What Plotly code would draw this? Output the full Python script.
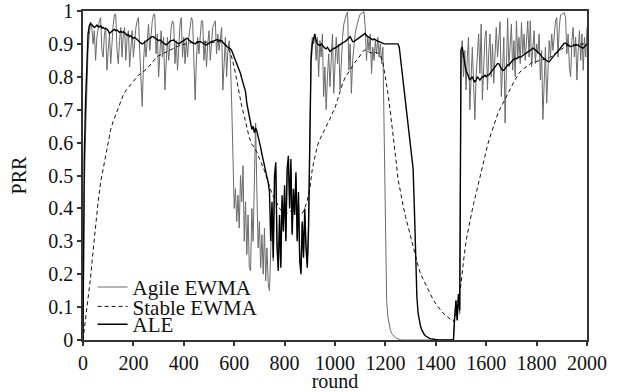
import plotly.graph_objects as go

# ---------------- data ----------------
rounds_fine = list(range(0, 2001, 5))     # Agile EWMA and ALE sampled every 5 rounds
rounds_stable = list(range(0, 2001, 10))  # Stable EWMA sampled every 10 rounds

agile_ewma = [
    0.00, 0.45, 0.62, 0.78, 0.88, 0.93, 0.96, 0.95, 0.90, 0.94, 0.85, 0.92, 0.95, 0.97, 0.98, 0.88, 0.86, 0.93, 0.95, 0.82,
    0.88, 0.93, 0.84, 0.91, 0.96, 0.99, 0.99, 0.88, 0.84, 0.91, 0.95, 0.86, 0.93, 0.95, 0.85, 0.92, 0.94, 0.83, 0.90, 0.94,
    0.86, 0.92, 0.95, 0.97, 0.98, 0.88, 0.80, 0.71, 0.84, 0.91, 0.86, 0.93, 0.96, 0.88, 0.94, 0.97, 0.99, 0.99, 0.87, 0.93,
    0.80, 0.89, 0.94, 0.86, 0.92, 0.76, 0.86, 0.92, 0.85, 0.91, 0.95, 0.97, 0.96, 0.84, 0.91, 0.82, 0.90, 0.96, 0.98, 0.86,
    0.92, 0.84, 0.91, 0.86, 0.92, 0.96, 0.98, 0.97, 0.86, 0.73, 0.85, 0.92, 0.87, 0.93, 0.97, 0.97, 0.85, 0.91, 0.83, 0.90,
    0.94, 0.85, 0.92, 0.95, 0.96, 0.97, 0.87, 0.93, 0.88, 0.92, 0.95, 0.76, 0.86, 0.92, 0.80, 0.88, 0.91, 0.85, 0.72, 0.52,
    0.40, 0.46, 0.36, 0.44, 0.34, 0.50, 0.42, 0.53, 0.30, 0.42, 0.26, 0.38, 0.22, 0.21, 0.40, 0.30, 0.55, 0.66, 0.45, 0.28,
    0.36, 0.22, 0.32, 0.20, 0.34, 0.18, 0.28, 0.17, 0.15, 0.26, 0.40, 0.24, 0.48, 0.52, 0.30, 0.22, 0.36, 0.24, 0.42, 0.35,
    0.45, 0.31, 0.50, 0.54, 0.41, 0.52, 0.33, 0.44, 0.39, 0.49, 0.31, 0.43, 0.25, 0.21, 0.35, 0.26, 0.38, 0.29, 0.23, 0.30,
    0.65, 0.88, 0.92, 0.90, 0.93, 0.85, 0.92, 0.80, 0.91, 0.86, 0.93, 0.74, 0.83, 0.70, 0.80, 0.87, 0.77, 0.88, 0.93, 0.75,
    0.86, 0.92, 0.84, 0.90, 0.76, 0.86, 0.92, 0.96, 0.98, 0.99, 0.997, 0.82, 0.90, 0.75, 0.85, 0.90, 0.93, 0.95, 0.97, 0.98,
    0.99, 0.993, 0.996, 0.998, 0.95, 0.85, 0.92, 0.88, 0.93, 0.81, 0.89, 0.85, 0.91, 0.87, 0.92, 0.86, 0.90, 0.84, 0.89, 0.60,
    0.30, 0.12, 0.07, 0.045, 0.03, 0.02, 0.015, 0.01, 0.007, 0.005, 0.003, 0.002, 0.001, 0, 0, 0, 0, 0, 0, 0,
    0, 0, 0, 0, 0, 0, 0, 0, 0, 0, 0, 0, 0, 0, 0, 0, 0, 0, 0, 0,
    0, 0, 0, 0, 0, 0, 0, 0, 0, 0, 0, 0, 0, 0, 0, 0.07, 0.12, 0.06, 0.14, 0.08,
    0.88, 0.91, 0.80, 0.88, 0.76, 0.86, 0.92, 0.70, 0.82, 0.89, 0.78, 0.67, 0.80, 0.88, 0.93, 0.81, 0.96, 0.73, 0.85, 0.92,
    0.94, 0.76, 0.87, 0.93, 0.80, 0.90, 0.78, 0.88, 0.95, 0.86, 0.93, 0.967, 0.74, 0.86, 0.92, 0.66, 0.85, 0.978, 0.83, 0.91,
    0.96, 0.82, 0.91, 0.80, 0.97, 0.86, 0.92, 0.84, 0.965, 0.87, 0.93, 0.85, 0.92, 0.97, 0.86, 0.97, 0.83, 0.90, 0.94, 0.84,
    0.90, 0.87, 0.93, 0.79, 0.88, 0.67, 0.82, 0.89, 0.72, 0.84, 0.91, 0.86, 0.93, 0.88, 0.94, 0.97, 0.98, 0.86, 0.95, 0.988,
    0.99, 0.993, 0.995, 0.98, 0.87, 0.93, 0.83, 0.80, 0.91, 0.95, 0.86, 0.92, 0.79, 0.88, 0.94, 0.85, 0.93, 0.82, 0.92, 0.86,
    0.95,
]

ale = [
    0.0, 0.55, 0.72, 0.86, 0.93, 0.955, 0.963, 0.958, 0.955, 0.95, 0.953, 0.957, 0.952, 0.952, 0.955, 0.948, 0.95, 0.946, 0.947, 0.945,
    0.94, 0.932, 0.935, 0.94, 0.942, 0.944, 0.94, 0.942, 0.938, 0.935, 0.938, 0.935, 0.937, 0.932, 0.93, 0.926, 0.928, 0.922, 0.925, 0.92,
    0.917, 0.92, 0.917, 0.912, 0.91, 0.905, 0.903, 0.9, 0.902, 0.905, 0.91, 0.912, 0.915, 0.918, 0.92, 0.922, 0.922, 0.918, 0.915, 0.913,
    0.91, 0.912, 0.91, 0.905, 0.902, 0.9, 0.897, 0.9, 0.905, 0.908, 0.91, 0.912, 0.912, 0.908, 0.905, 0.903, 0.9, 0.903, 0.905, 0.908,
    0.91, 0.913, 0.916, 0.917, 0.912, 0.908, 0.905, 0.903, 0.902, 0.9, 0.903, 0.905, 0.907, 0.907, 0.905, 0.902, 0.9, 0.898, 0.897, 0.9,
    0.903, 0.905, 0.907, 0.908, 0.91, 0.912, 0.913, 0.912, 0.912, 0.912, 0.91, 0.905, 0.9, 0.895, 0.892, 0.89, 0.888, 0.885, 0.88, 0.87,
    0.86, 0.85, 0.845, 0.835, 0.825, 0.81, 0.795, 0.78, 0.77, 0.755, 0.72, 0.695, 0.67, 0.66, 0.64, 0.65, 0.63, 0.645, 0.635, 0.62,
    0.60, 0.585, 0.565, 0.545, 0.525, 0.51, 0.495, 0.48, 0.45, 0.30, 0.42, 0.25, 0.50, 0.54, 0.28, 0.21, 0.38, 0.22, 0.44, 0.33,
    0.47, 0.30, 0.52, 0.56, 0.40, 0.55, 0.32, 0.46, 0.38, 0.51, 0.30, 0.45, 0.24, 0.20, 0.36, 0.25, 0.40, 0.28, 0.22, 0.35,
    0.70, 0.85, 0.90, 0.92, 0.93, 0.91, 0.90, 0.897, 0.895, 0.90, 0.895, 0.89, 0.887, 0.885, 0.89, 0.883, 0.877, 0.88, 0.885, 0.887,
    0.887, 0.89, 0.893, 0.895, 0.897, 0.90, 0.903, 0.905, 0.907, 0.91, 0.915, 0.92, 0.922, 0.915, 0.907, 0.907, 0.91, 0.913, 0.915, 0.917,
    0.92, 0.923, 0.927, 0.93, 0.932, 0.925, 0.922, 0.92, 0.918, 0.915, 0.912, 0.915, 0.912, 0.91, 0.908, 0.907, 0.905, 0.903, 0.90, 0.90,
    0.90, 0.90, 0.90, 0.90, 0.90, 0.90, 0.90, 0.90, 0.90, 0.90, 0.90, 0.89, 0.855, 0.82, 0.79, 0.755, 0.72, 0.69, 0.655, 0.62,
    0.59, 0.555, 0.52, 0.40, 0.22, 0.13, 0.08, 0.055, 0.04, 0.03, 0.022, 0.016, 0.012, 0.009, 0.007, 0.005, 0.004, 0.003, 0.002, 0.001,
    0, 0, 0, 0, 0, 0, 0, 0, 0, 0, 0, 0, 0, 0, 0, 0.07, 0.12, 0.06, 0.14, 0.09,
    0.88, 0.89, 0.86, 0.84, 0.82, 0.81, 0.80, 0.79, 0.795, 0.80, 0.79, 0.785, 0.79, 0.80, 0.795, 0.79, 0.795, 0.80, 0.80, 0.805,
    0.80, 0.805, 0.805, 0.81, 0.815, 0.82, 0.825, 0.83, 0.835, 0.84, 0.84, 0.83, 0.825, 0.82, 0.82, 0.825, 0.83, 0.836, 0.836, 0.842,
    0.845, 0.85, 0.853, 0.856, 0.855, 0.858, 0.86, 0.86, 0.861, 0.865, 0.868, 0.87, 0.873, 0.876, 0.878, 0.88, 0.884, 0.887, 0.885, 0.882,
    0.878, 0.876, 0.872, 0.868, 0.862, 0.857, 0.855, 0.852, 0.848, 0.846, 0.846, 0.85, 0.856, 0.86, 0.865, 0.87, 0.874, 0.876, 0.882, 0.888,
    0.894, 0.898, 0.902, 0.902, 0.898, 0.895, 0.893, 0.892, 0.892, 0.894, 0.895, 0.896, 0.897, 0.897, 0.893, 0.89, 0.889, 0.887, 0.892, 0.896,
    0.90,
]

stable_ewma = [
    0.0, 0.06, 0.13, 0.19, 0.27, 0.35, 0.42, 0.48, 0.52, 0.57,
    0.61, 0.64, 0.665, 0.685, 0.705, 0.725, 0.745, 0.758, 0.768, 0.776,
    0.785, 0.795, 0.805, 0.81, 0.815, 0.822, 0.83, 0.84, 0.85, 0.858,
    0.864, 0.868, 0.872, 0.875, 0.878, 0.882, 0.886, 0.89, 0.894, 0.897,
    0.899, 0.9, 0.902, 0.904, 0.906, 0.907, 0.907, 0.906, 0.905, 0.904,
    0.903, 0.904, 0.905, 0.906, 0.907, 0.905, 0.9, 0.895, 0.88, 0.86,
    0.83, 0.79, 0.745, 0.71, 0.68, 0.65, 0.615, 0.595, 0.585, 0.57,
    0.553, 0.535, 0.515, 0.49, 0.465, 0.445, 0.43, 0.415, 0.40, 0.39,
    0.385, 0.385, 0.39, 0.395, 0.39, 0.385, 0.38, 0.385, 0.40, 0.425,
    0.46, 0.52, 0.56, 0.59, 0.61, 0.625, 0.64, 0.655, 0.672, 0.69,
    0.705, 0.73, 0.755, 0.78, 0.797, 0.81, 0.823, 0.835, 0.845, 0.853,
    0.865, 0.877, 0.882, 0.878, 0.873, 0.872, 0.874, 0.872, 0.865, 0.845,
    0.80, 0.75, 0.69, 0.63, 0.56, 0.49, 0.445, 0.41, 0.375, 0.345,
    0.31, 0.28, 0.25, 0.225, 0.20, 0.185, 0.165, 0.15, 0.135, 0.122,
    0.11, 0.10, 0.09, 0.081, 0.074, 0.067, 0.061, 0.056, 0.08, 0.12,
    0.17, 0.24, 0.30, 0.34, 0.38, 0.415, 0.445, 0.48, 0.51, 0.545,
    0.575, 0.605, 0.63, 0.655, 0.675, 0.695, 0.71, 0.725, 0.745, 0.758,
    0.77, 0.785, 0.80, 0.81, 0.82, 0.826, 0.832, 0.837, 0.842, 0.845,
    0.847, 0.85, 0.852, 0.854, 0.855, 0.857, 0.862, 0.868, 0.874, 0.879,
    0.884, 0.89, 0.895, 0.897, 0.898, 0.898, 0.899, 0.90, 0.90, 0.90,
    0.90,
]

series_names = ["Agile EWMA", "Stable EWMA", "ALE"]
x_ticks = [0, 200, 400, 600, 800, 1000, 1200, 1400, 1600, 1800, 2000]
y_ticks = [0, 0.1, 0.2, 0.3, 0.4, 0.5, 0.6, 0.7, 0.8, 0.9, 1]
y_tick_text = ["0", "0.1", "0.2", "0.3", "0.4", "0.5", "0.6", "0.7", "0.8", "0.9", "1"]

assert len(agile_ewma) == len(rounds_fine)
assert len(ale) == len(rounds_fine)
assert len(stable_ewma) == len(rounds_stable)

# ---------------- figure ----------------
FONT = "Liberation Serif, DejaVu Serif, serif"
AXIS_COLOR = "#333333"

fig = go.Figure()
fig.add_trace(go.Scatter(
    x=rounds_fine, y=agile_ewma, name=series_names[0], mode="lines",
    line=dict(color="#6a6a6a", width=1), legend="legend",
))
fig.add_trace(go.Scatter(
    x=rounds_stable, y=stable_ewma, name=series_names[1], mode="lines",
    line=dict(color="#111111", width=1, dash="4px,3px"), legend="legend2",
))
fig.add_trace(go.Scatter(
    x=rounds_fine, y=ale, name=series_names[2], mode="lines",
    line=dict(color="#000000", width=1.4), legend="legend3",
))

legend_common = dict(
    xanchor="left", yanchor="middle", bgcolor="rgba(0,0,0,0)",
    borderwidth=0, font=dict(family=FONT, size=21, color="#111111"),
    itemwidth=30,
)

fig.update_layout(
    width=625, height=392,
    margin=dict(l=83, r=38, t=11, b=52, autoexpand=False),
    paper_bgcolor="white", plot_bgcolor="white",
    font=dict(family=FONT, size=20, color="#111111"),
    showlegend=True,
    legend=dict(x=0.019, y=0.160, **legend_common),
    legend2=dict(x=0.019, y=0.101, **legend_common),
    legend3=dict(x=0.019, y=0.047, **legend_common),
    xaxis=dict(
        range=[0, 2000], tickmode="array", tickvals=x_ticks,
        ticks="outside", ticklen=4, tickwidth=1.5, tickcolor=AXIS_COLOR,
        showline=True, linecolor=AXIS_COLOR, linewidth=1.5, mirror=True,
        showgrid=False, zeroline=False, automargin=False,
        title=dict(text="round", standoff=7, font=dict(size=20)),
        tickfont=dict(size=20),
    ),
    yaxis=dict(
        range=[0, 1], tickmode="array", tickvals=y_ticks, ticktext=y_tick_text,
        ticks="outside", ticklen=4, tickwidth=1.5, tickcolor=AXIS_COLOR,
        showline=True, linecolor=AXIS_COLOR, linewidth=1.5, mirror=True,
        showgrid=False, zeroline=False, automargin=False,
        title=dict(text="PRR", standoff=16, font=dict(size=20)),
        tickfont=dict(size=20),
    ),
)

# remove the browser's default 8px page margin so the figure fills the window
fig.write_html(
    "out.html",
    config={"displayModeBar": False},
    post_script="document.body.style.margin='0';",
)
